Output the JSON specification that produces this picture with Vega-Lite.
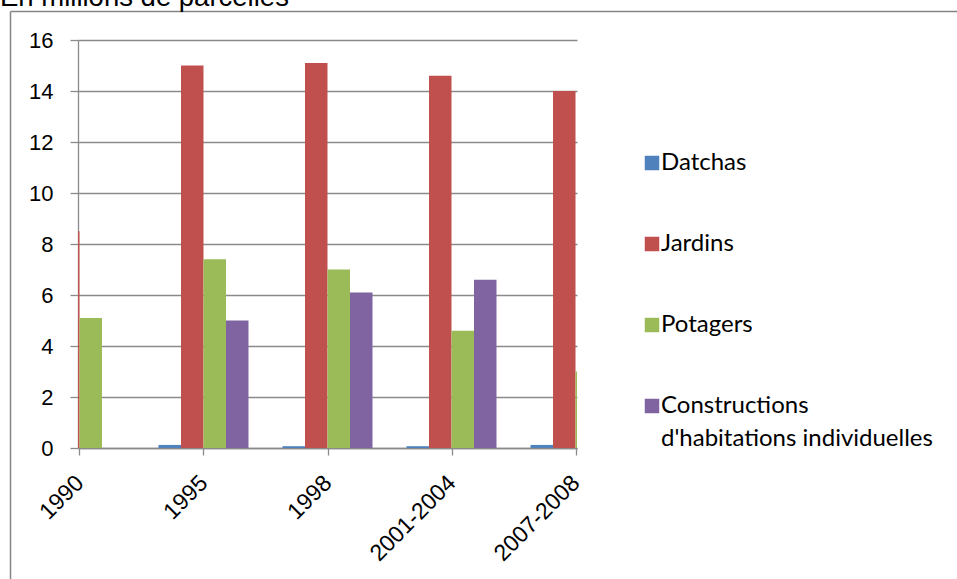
{
  "$schema": "https://vega.github.io/schema/vega-lite/v6.json",
  "width": 499,
  "height": 408,
  "autosize": {"type": "none"},
  "padding": {"left": 78, "top": 40, "right": 380, "bottom": 131},
  "background": "white",
  "title": {
    "text": "En millions de parcelles",
    "anchor": "start",
    "frame": "group",
    "font": "Liberation Sans",
    "fontSize": 27.5,
    "fontWeight": "normal",
    "color": "#000000",
    "baseline": "alphabetic",
    "dx": -78,
    "dy": 30,
    "offset": 5
  },
  "data": {
    "values": [
      {"periode": "1990", "serie": "Jardins", "valeur": 8.5},
      {"periode": "1990", "serie": "Potagers", "valeur": 5.1},
      {"periode": "1995", "serie": "Datchas", "valeur": 0.12},
      {"periode": "1995", "serie": "Jardins", "valeur": 15.0},
      {"periode": "1995", "serie": "Potagers", "valeur": 7.4},
      {"periode": "1995", "serie": "Constructions d'habitations individuelles", "valeur": 5.0},
      {"periode": "1998", "serie": "Datchas", "valeur": 0.07},
      {"periode": "1998", "serie": "Jardins", "valeur": 15.1},
      {"periode": "1998", "serie": "Potagers", "valeur": 7.0},
      {"periode": "1998", "serie": "Constructions d'habitations individuelles", "valeur": 6.1},
      {"periode": "2001-2004", "serie": "Datchas", "valeur": 0.07},
      {"periode": "2001-2004", "serie": "Jardins", "valeur": 14.6},
      {"periode": "2001-2004", "serie": "Potagers", "valeur": 4.6},
      {"periode": "2001-2004", "serie": "Constructions d'habitations individuelles", "valeur": 6.6},
      {"periode": "2007-2008", "serie": "Datchas", "valeur": 0.12},
      {"periode": "2007-2008", "serie": "Jardins", "valeur": 14.0},
      {"periode": "2007-2008", "serie": "Potagers", "valeur": 3.0}
    ]
  },
  "layer": [
    {
      "description": "Chart-area border: two bare axis domain lines on wide scales",
      "mark": {"type": "point", "opacity": 0},
      "encoding": {
        "x": {
          "field": "valeur",
          "type": "quantitative",
          "scale": {"range": [-68, 900], "nice": false},
          "axis": {"orient": "top", "offset": 29, "labels": false, "ticks": false, "grid": false, "title": null, "domainColor": "#858585", "domainWidth": 1.5}
        },
        "y": {
          "field": "valeur",
          "type": "quantitative",
          "scale": {"range": [560, -29], "nice": false},
          "axis": {"orient": "left", "offset": 68, "labels": false, "ticks": false, "grid": false, "title": null, "domainColor": "#858585", "domainWidth": 1.5}
        }
      }
    },
    {
      "mark": {"type": "bar", "clip": true},
      "encoding": {
        "x": {
          "field": "periode",
          "type": "nominal",
          "sort": ["1990", "1995", "1998", "2001-2004", "2007-2008"],
          "scale": {"type": "point", "padding": 0.012},
          "axis": {
            "orient": "bottom",
            "title": null,
            "labelAngle": -45,
            "labelAlign": "right",
            "labelBaseline": "middle",
            "labelPadding": 24,
            "labelFont": "Liberation Sans",
            "labelFontSize": 23,
            "labelColor": "#000000",
            "tickSize": 7,
            "tickColor": "#8a8a8a",
            "tickWidth": 1.3,
            "domainColor": "#8a8a8a",
            "domainWidth": 1.3,
            "grid": false
          }
        },
        "xOffset": {
          "field": "serie",
          "type": "nominal",
          "sort": ["Datchas", "Jardins", "Potagers", "Constructions d'habitations individuelles"],
          "scale": {"range": [-45, 45], "paddingInner": 0, "paddingOuter": 0}
        },
        "y": {
          "field": "valeur",
          "type": "quantitative",
          "scale": {"domain": [0, 16], "nice": false},
          "axis": {
            "orient": "left",
            "title": null,
            "values": [0, 2, 4, 6, 8, 10, 12, 14, 16],
            "labelFont": "Liberation Sans",
            "labelFontSize": 22,
            "labelColor": "#000000",
            "labelPadding": 17,
            "tickSize": 8,
            "tickColor": "#8a8a8a",
            "tickWidth": 1.3,
            "domainColor": "#8a8a8a",
            "domainWidth": 1.3,
            "grid": true,
            "gridColor": "#8a8a8a",
            "gridWidth": 1.3
          }
        },
        "color": {
          "field": "serie",
          "type": "nominal",
          "scale": {
            "domain": ["Datchas", "Jardins", "Potagers", "Constructions d'habitations individuelles"],
            "range": ["#4F81BD", "#C0504D", "#9BBB59", "#8064A2"]
          },
          "legend": {
            "orient": "none",
            "legendX": 562,
            "legendY": 111,
            "title": null,
            "symbolType": "square",
            "symbolSize": 210,
            "symbolStrokeWidth": 0,
            "symbolOpacity": 1,
            "labelFont": "Lato",
            "labelFontSize": 24,
            "labelColor": "#000000",
            "labelLimit": 400,
            "labelOffset": -3,
            "labelBaseline": "middle",
            "rowPadding": 57,
            "padding": 0,
            "labelExpr": "indexof(datum.label, 'Constructions') == 0 ? ['Constructions', \"d'habitations individuelles\"] : datum.label"
          }
        }
      }
    }
  ],
  "resolve": {"scale": {"x": "independent", "y": "independent"}},
  "config": {
    "view": {"stroke": null},
    "style": {"guide-label": {"lineHeight": 33}}
  }
}
